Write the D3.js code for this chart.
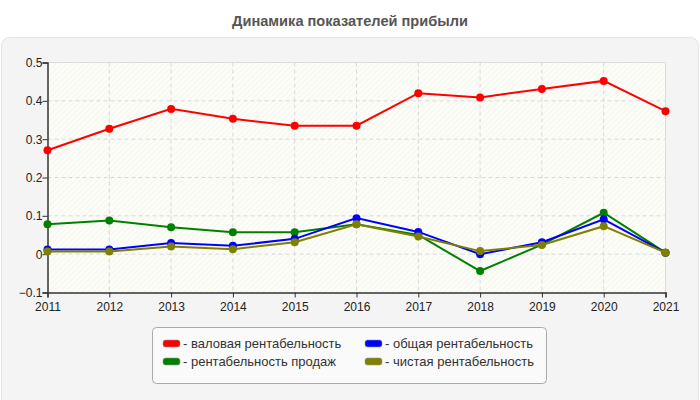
<!DOCTYPE html>
<html>
<head>
<meta charset="utf-8">
<script src="https://cdn.jsdelivr.net/npm/d3@7"></script>
<style>
  body { margin: 0; background: #fff; }
  svg { display: block; font-family: "Liberation Sans", Arial, sans-serif; }
</style>
</head>
<body>
<div id="chart"></div>
<script>
// chart data
const years = [2011, 2012, 2013, 2014, 2015, 2016, 2017, 2018, 2019, 2020, 2021];
const grossMargin = [0.271, 0.327, 0.379, 0.353, 0.335, 0.335, 0.420, 0.409, 0.431, 0.452, 0.373];
const overallMargin = [0.012, 0.012, 0.029, 0.022, 0.040, 0.094, 0.058, 0.000, 0.031, 0.091, 0.004];
const salesMargin = [0.078, 0.088, 0.070, 0.057, 0.057, 0.078, 0.050, -0.044, 0.025, 0.108, 0.004];
const netMargin = [0.007, 0.007, 0.020, 0.013, 0.031, 0.078, 0.046, 0.008, 0.024, 0.073, 0.004];
const yTicks = [-0.1, 0, 0.1, 0.2, 0.3, 0.4, 0.5];
const seriesNames = ["валовая рентабельность", "общая рентабельность", "рентабельность продаж", "чистая рентабельность"];
const seriesColors = ["#ff0000", "#0000ff", "#008000", "#808000"];

const series = [
  { name: seriesNames[0], color: seriesColors[0], values: grossMargin },
  { name: seriesNames[2], color: seriesColors[2], values: salesMargin },
  { name: seriesNames[1], color: seriesColors[1], values: overallMargin },
  { name: seriesNames[3], color: seriesColors[3], values: netMargin },
];

const width = 700, height = 400;
const svg = d3.select("#chart").append("svg")
  .attr("width", width).attr("height", height);

// hatch pattern for plot background
const defs = svg.append("defs");
const pat = defs.append("pattern")
  .attr("id", "hatch").attr("width", 4).attr("height", 4)
  .attr("patternUnits", "userSpaceOnUse")
  .attr("patternTransform", "rotate(45)");
pat.append("rect").attr("width", 4).attr("height", 4).attr("fill", "#fdfdf7");
pat.append("line").attr("x1", 0).attr("y1", 0).attr("x2", 0).attr("y2", 4)
  .attr("stroke", "#ededeb").attr("stroke-width", 1);

// title
svg.append("text")
  .attr("x", 350).attr("y", 25.5)
  .attr("text-anchor", "middle")
  .attr("font-size", 14.6).attr("font-weight", "bold")
  .attr("fill", "#555")
  .text("Динамика показателей прибыли");

// outer panel
svg.append("rect")
  .attr("x", 1.5).attr("y", 37.5).attr("width", 697).attr("height", 370)
  .attr("rx", 8)
  .attr("fill", "#f4f4f4").attr("stroke", "#e4e4e4");

const x = d3.scaleLinear().domain([2011, 2021]).range([47.5, 665.5]);
const y = d3.scaleLinear().domain([-0.1, 0.5]).range([292.5, 62.5]);

const g = svg.append("g");

// plot background
g.append("rect")
  .attr("x", x(2011)).attr("y", y(0.5))
  .attr("width", x(2021) - x(2011)).attr("height", y(-0.1) - y(0.5))
  .attr("fill", "url(#hatch)");

// grid
g.append("g").selectAll("line").data(years.slice(1, -1)).join("line")
  .attr("x1", d => x(d)).attr("x2", d => x(d))
  .attr("y1", y(0.5)).attr("y2", y(-0.1))
  .attr("stroke", "#d8d8d8").attr("stroke-dasharray", "4,3");
g.append("g").selectAll("line").data(yTicks.slice(1, -1)).join("line")
  .attr("x1", x(2011)).attr("x2", x(2021))
  .attr("y1", d => y(d)).attr("y2", d => y(d))
  .attr("stroke", "#d8d8d8").attr("stroke-dasharray", "4,3");

// top and right borders
g.append("line").attr("x1", x(2011)).attr("x2", x(2021)).attr("y1", y(0.5)).attr("y2", y(0.5))
  .attr("stroke", "#dcdcdc");
g.append("line").attr("x1", x(2021)).attr("x2", x(2021)).attr("y1", y(0.5)).attr("y2", y(-0.1))
  .attr("stroke", "#dcdcdc");

// axes
const xAxis = g.append("g")
  .attr("transform", `translate(0,${y(-0.1)})`)
  .call(d3.axisBottom(x).tickValues(years).tickFormat(d3.format("d")).tickSizeOuter(0).tickSize(5));
const yAxis = g.append("g")
  .attr("transform", `translate(${x(2011)},0)`)
  .call(d3.axisLeft(y).tickValues(yTicks).tickFormat(d => d === 0 ? "0" : d3.format("")(+d.toFixed(1))).tickSizeOuter(0).tickSize(5));
[xAxis, yAxis].forEach(a => {
  a.select(".domain").attr("stroke", "#333").attr("stroke-width", 1.5);
  a.selectAll(".tick line").attr("stroke", "#333");
  a.selectAll(".tick text").attr("font-size", 12).attr("fill", "#222")
    .attr("font-family", "\"Liberation Sans\", Arial, sans-serif");
});
xAxis.selectAll(".tick text").attr("dy", "0.9em");
yAxis.selectAll(".tick text").attr("x", -5);

// lines and markers
const line = d3.line().x((d, i) => x(years[i])).y(d => y(d));
series.forEach(s => {
  g.append("path")
    .datum(s.values)
    .attr("fill", "none")
    .attr("stroke", s.color)
    .attr("stroke-width", 2)
    .attr("d", line);
  g.append("g").selectAll("circle").data(s.values).join("circle")
    .attr("cx", (d, i) => x(years[i])).attr("cy", d => y(d))
    .attr("r", 4).attr("fill", s.color);
});

// legend
const legend = svg.append("g");
legend.append("rect")
  .attr("x", 152.5).attr("y", 327.5).attr("width", 394).attr("height", 56)
  .attr("rx", 4).attr("fill", "#fafafa").attr("stroke", "#aaa");
const legendPos = [[163, 340], [365, 340], [163, 358], [365, 358]];
seriesNames.forEach((name, i) => {
  const [lx, ly] = legendPos[i];
  legend.append("rect")
    .attr("x", lx).attr("y", ly).attr("width", 17).attr("height", 7)
    .attr("rx", 2.5).attr("fill", seriesColors[i]).attr("stroke", "#999").attr("stroke-width", 0.6);
  legend.append("text")
    .attr("x", lx + 20).attr("y", ly + 8)
    .attr("font-size", 13).attr("fill", "#333")
    .text("- " + name);
});
</script>
</body>
</html>
